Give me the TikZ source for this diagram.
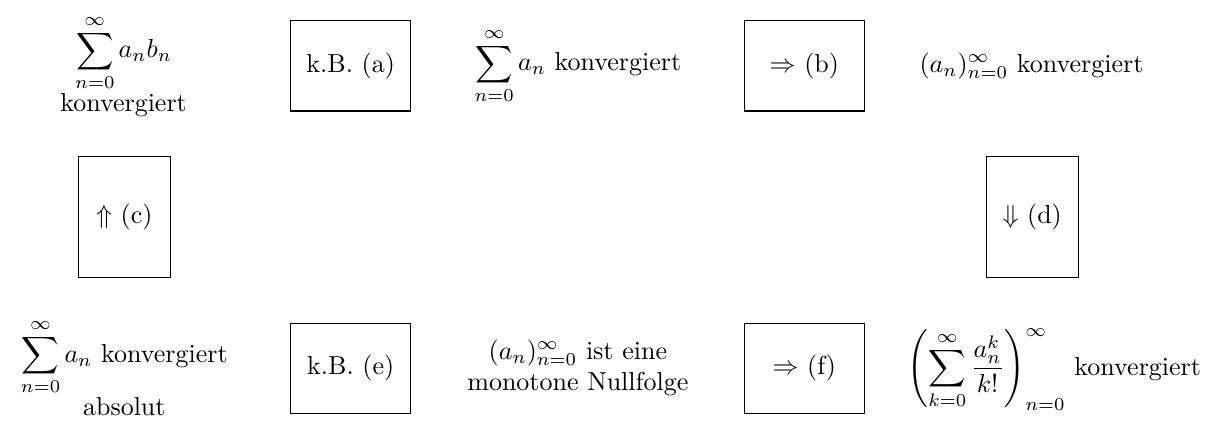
\documentclass[tikz,border=0pt]{standalone}
\usepackage{amsmath,amsfonts}
\usetikzlibrary{positioning}
\tikzset{
  stmt/.style={align=center, inner sep=2pt},
  hbox/.style={rectangle, draw, minimum width=1.62cm, minimum height=1.22cm},
  vbox/.style={rectangle, draw, minimum width=1.24cm, minimum height=1.64cm},
}
\begin{document}
\begin{tikzpicture}
\useasboundingbox (0,0) rectangle (16.38,5.69);
% top row
\node[stmt] (sumab) at (1.67,4.80) {$\displaystyle\sum_{n=0}^{\infty} a_n b_n$\\konvergiert};
\node[hbox] (ka) at (4.74,4.80) {k.B. (a)};
\node[stmt] (suma) at (7.81,4.80) {$\displaystyle\sum_{n=0}^{\infty} a_n$ konvergiert};
\node[hbox] (kb) at (10.87,4.80) {$\Rightarrow$ (b)};
\node[stmt] (seqa) at (13.94,4.80) {$(a_n)_{n=0}^{\infty}$ konvergiert};
% middle row
\node[vbox] (kc) at (1.68,2.76) {$\Uparrow$ (c)};
\node[vbox] (kd) at (13.95,2.76) {$\Downarrow$ (d)};
% bottom row
\node[stmt] (absa) at (1.68,0.72) {$\displaystyle\sum_{n=0}^{\infty} a_n$ konvergiert\\absolut};
\node[hbox] (ke) at (4.74,0.71) {k.B. (e)};
\node[stmt] (nullf) at (7.81,0.72) {$(a_n)_{n=0}^{\infty}$ ist eine\\monotone Nullfolge};
\node[hbox] (kf) at (10.87,0.71) {$\Rightarrow$ (f)};
\node[stmt] (expa) at (14.25,0.70) {$\displaystyle\left(\sum_{k=0}^{\infty}\frac{a_n^k}{k!}\right)_{n=0}^{\infty}$ konvergiert};
\end{tikzpicture}
\end{document}
